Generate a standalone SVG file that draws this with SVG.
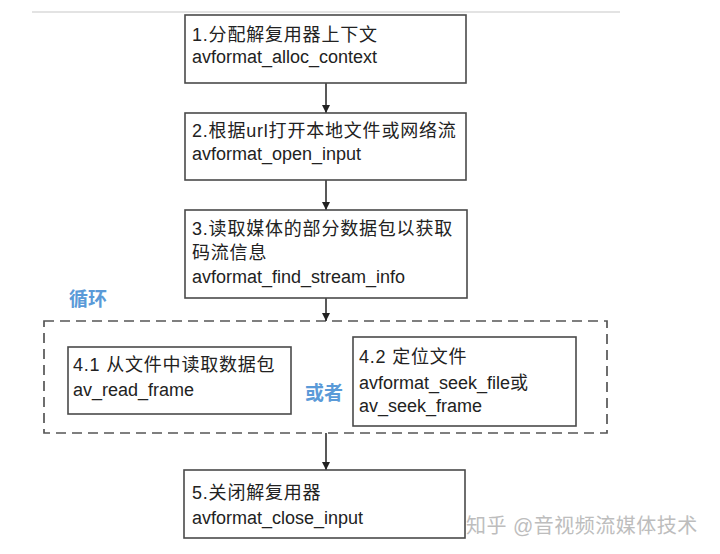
<svg xmlns="http://www.w3.org/2000/svg" width="720" height="554" viewBox="0 0 720 554">
<style>
.box{fill:#fff;stroke:#4a4a4a;stroke-width:1.6}
.t{font-family:"Liberation Sans","Noto Sans CJK SC",sans-serif;font-size:18px;fill:#222}
.c{letter-spacing:0.8px}
.blue{font-family:"Liberation Sans","Noto Sans CJK SC",sans-serif;font-size:19px;font-weight:bold;fill:#5a9ad8}
.conn{stroke:#222;stroke-width:1.5;fill:none}
</style>
<defs>
<marker id="ah" viewBox="0 0 10 10" refX="10" refY="5" markerWidth="8" markerHeight="8" markerUnits="userSpaceOnUse" orient="auto">
<path d="M0,0 L10,5 L0,10 z" fill="#222"/>
</marker>
</defs>
<rect width="720" height="554" fill="#fff"/>
<line x1="32" y1="12" x2="620" y2="12" stroke="#c8c8c8" stroke-width="1.2"/>

<g id="loop">
<rect x="44" y="321" width="563" height="112" fill="none" stroke="#555" stroke-width="1.7" stroke-dasharray="10,6"/>
<text class="blue" x="69" y="306">循环</text>
<text class="blue" x="305" y="400">或者</text>
</g>

<g id="connectors">
<line class="conn" x1="326" y1="83" x2="326" y2="113" marker-end="url(#ah)"/>
<line class="conn" x1="326" y1="180" x2="326" y2="210" marker-end="url(#ah)"/>
<line class="conn" x1="326" y1="298" x2="326" y2="321" marker-end="url(#ah)"/>
<line class="conn" x1="326" y1="433" x2="326" y2="470" marker-end="url(#ah)"/>
</g>

<g id="n1">
<rect class="box" x="185" y="15" width="281" height="68"/>
<text class="t c" x="192" y="41">1.分配解复用器上下文</text>
<text class="t" x="192" y="63">avformat_alloc_context</text>
</g>

<g id="n2">
<rect class="box" x="185" y="113" width="281" height="67"/>
<text class="t c" x="192" y="137">2.根据url打开本地文件或网络流</text>
<text class="t" x="192" y="160">avformat_open_input</text>
</g>

<g id="n3">
<rect class="box" x="185" y="210" width="282" height="88"/>
<text class="t c" x="192" y="235">3.读取媒体的部分数据包以获取</text>
<text class="t c" x="192" y="259">码流信息</text>
<text class="t" x="192" y="283">avformat_find_stream_info</text>
</g>

<g id="n41">
<rect class="box" x="68" y="347" width="223" height="67"/>
<text class="t c" x="73" y="371">4.1 从文件中读取数据包</text>
<text class="t" x="73" y="396">av_read_frame</text>
</g>

<g id="n42">
<rect class="box" x="353" y="337" width="223" height="89"/>
<text class="t c" x="359" y="363">4.2 定位文件</text>
<text class="t" x="359" y="389">avformat_seek_file或</text>
<text class="t" x="359" y="412">av_seek_frame</text>
</g>

<g id="n5">
<rect class="box" x="184" y="470" width="281" height="68"/>
<text class="t c" x="192" y="499">5.关闭解复用器</text>
<text class="t" x="192" y="524">avformat_close_input</text>
</g>

<text x="466" y="533" font-family="Liberation Sans,'Noto Sans CJK SC',sans-serif" font-size="20" fill="#bdbdbd" letter-spacing="0.5">知乎 @音视频流媒体技术</text>
</svg>
